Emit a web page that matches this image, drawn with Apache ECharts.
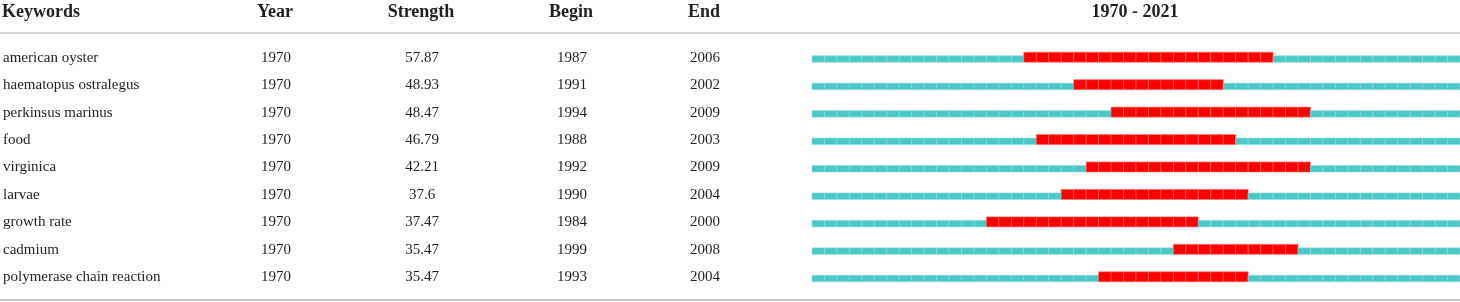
<!DOCTYPE html>
<html>
<head>
<meta charset="utf-8">
<script src="https://cdn.jsdelivr.net/npm/echarts@6/dist/echarts.min.js"></script>
<style>
  html, body { margin: 0; padding: 0; background: #fff; }
  #chart { width: 1460px; height: 302px; }
</style>
</head>
<body>
<div id="chart"></div>
<script>
// burst table data
const keywords = [
  'american oyster', 'haematopus ostralegus', 'perkinsus marinus', 'food', 'virginica',
  'larvae', 'growth rate', 'cadmium', 'polymerase chain reaction'
];
const firstYears = [1970, 1970, 1970, 1970, 1970, 1970, 1970, 1970, 1970];
const strengths = ['57.87', '48.93', '48.47', '46.79', '42.21', '37.6', '37.47', '35.47', '35.47'];
const begins = [1987, 1991, 1994, 1988, 1992, 1990, 1984, 1999, 1993];
const ends = [2006, 2002, 2009, 2003, 2009, 2004, 2000, 2008, 2004];
const startYear = 1970;
const endYear = 2021;
const headers = ['Keywords', 'Year', 'Strength', 'Begin', 'End'];

const yearCats = [];
for (let y = startYear; y <= endYear; y++) yearCats.push(String(y));

// one cell per keyword per year, flagged if inside the burst
const cells = [];
keywords.forEach((k, row) => {
  yearCats.forEach((y, i) => {
    const yr = startYear + i;
    cells.push([i, row, yr >= begins[row] && yr <= ends[row] ? 1 : 0]);
  });
});

const gridLeft = 811;
const serif = '"Liberation Serif", "DejaVu Serif", serif';
const textColor = '#231f20';

// text column helper: a hidden category axis that only shows labels
const colAxis = (data, centerX, align) => ({
  type: 'category',
  gridIndex: 0,
  position: 'left',
  inverse: true,
  data: data.map(String),
  offset: gridLeft - centerX,
  axisLine: { show: false },
  axisTick: { show: false },
  splitLine: { show: false },
  axisLabel: {
    margin: 0,
    align: align,
    fontFamily: serif,
    fontSize: 15,
    color: textColor
  }
});

const chart = echarts.init(document.getElementById('chart'));

const headerText = (text, x, align) => ({
  type: 'text',
  x: x,
  y: 12,
  style: {
    text: text,
    fill: textColor,
    font: 'bold 18px ' + serif,
    textAlign: align,
    textVerticalAlign: 'middle'
  }
});

chart.setOption({
  animation: false,
  grid: { left: gridLeft, right: 0, top: 44, height: 247 },
  xAxis: {
    type: 'category',
    data: yearCats,
    show: false
  },
  yAxis: [
    colAxis(keywords, 2, 'left'),
    colAxis(firstYears, 275, 'center'),
    colAxis(strengths, 421, 'center'),
    colAxis(begins, 571, 'center'),
    colAxis(ends, 704, 'center')
  ],
  graphic: [
    headerText(headers[0], 2, 'left'),
    headerText(headers[1], 275, 'center'),
    headerText(headers[2], 421, 'center'),
    headerText(headers[3], 571, 'center'),
    headerText(headers[4], 704, 'center'),
    headerText(startYear + ' - ' + endYear, 1135, 'center'),
    { type: 'line', shape: { x1: 0, y1: 33, x2: 1460, y2: 33 }, style: { stroke: '#d4d4d4', lineWidth: 2 } },
    { type: 'line', shape: { x1: 0, y1: 300, x2: 1460, y2: 300 }, style: { stroke: '#c4c4c4', lineWidth: 2 } }
  ],
  series: [{
    type: 'custom',
    xAxisIndex: 0,
    yAxisIndex: 0,
    data: cells,
    renderItem: (params, api) => {
      const p = api.coord([api.value(0), api.value(1)]);
      const w = api.size([1, 0])[0];
      const burst = api.value(2) === 1;
      const h = burst ? 10 : 6.5;
      const bottom = p[1] + 4.5;
      return {
        type: 'rect',
        shape: { x: p[0] - w / 2, y: bottom - h, width: w, height: h },
        style: {
          fill: burst ? '#ff0000' : '#4ac8c8',
          stroke: burst ? '#ff6a6a' : '#8adcdc',
          lineWidth: 0.6
        }
      };
    }
  }]
});
</script>
</body>
</html>
